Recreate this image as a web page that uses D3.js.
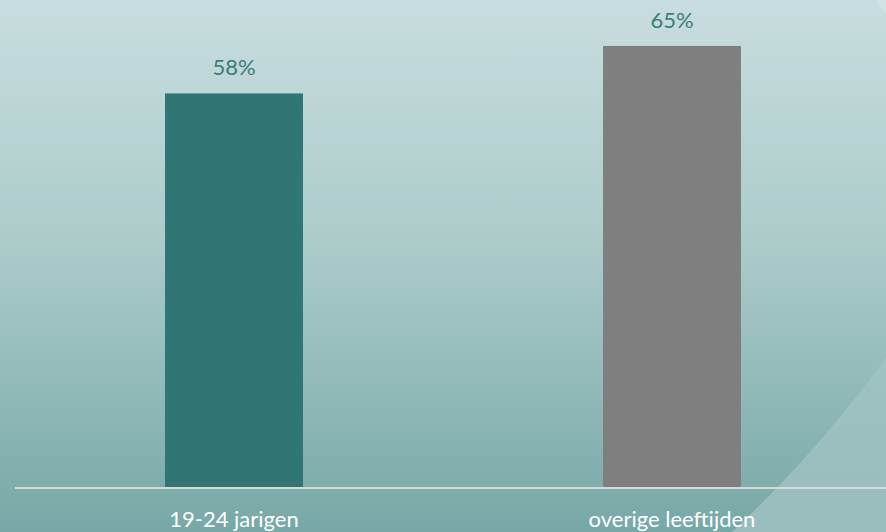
<!DOCTYPE html>
<html>
<head>
<meta charset="utf-8">
<script src="https://cdn.jsdelivr.net/npm/d3@7"></script>
<style>
  html, body { margin: 0; padding: 0; background: #c8dddf; }
  svg { display: block; }
</style>
</head>
<body>
<div id="chart"></div>
<script>
// Share of respondents per age group
const categories = ["19-24 jarigen", "overige leeftijden"];
const values = [58, 65];
const valueLabels = ["58%", "65%"];
const barColors = ["#307674", "#7f7f7f"];

const W = 886, H = 532;
const svg = d3.select("#chart").append("svg")
  .attr("width", W).attr("height", H);

const defs = svg.append("defs");

// Vertical background wash
const bg = defs.append("linearGradient").attr("id", "bg")
  .attr("x1", 0).attr("y1", 0).attr("x2", 0).attr("y2", 1);
bg.append("stop").attr("offset", "0").attr("stop-color", "#c8dddf");
bg.append("stop").attr("offset", "0.45").attr("stop-color", "#acccca");
bg.append("stop").attr("offset", "1").attr("stop-color", "#77a8a7");

// Highlight that grows stronger toward the bottom
const hl = defs.append("linearGradient").attr("id", "hl")
  .attr("gradientUnits", "userSpaceOnUse")
  .attr("x1", 0).attr("y1", 300).attr("x2", 0).attr("y2", 532);
hl.append("stop").attr("offset", "0").attr("stop-color", "#ffffff").attr("stop-opacity", 0.03);
hl.append("stop").attr("offset", "1").attr("stop-color", "#ffffff").attr("stop-opacity", 0.25);

svg.append("rect").attr("width", W).attr("height", H).attr("fill", "url(#bg)");

// Area of the frame lying outside a circle
function outsideCircle(cx, cy, r) {
  return `M0,0H${W}V${H}H0Z M${cx + r},${cy} A${r},${r} 0 1,0 ${cx - r},${cy} A${r},${r} 0 1,0 ${cx + r},${cy}Z`;
}

// Decorative arc in the lower right
svg.append("path").attr("d", outsideCircle(-113, -369, 1235))
  .attr("fill", "url(#hl)").attr("fill-rule", "evenodd");

// Small corner sheen at the top right
svg.append("path").attr("d", outsideCircle(74.5, 598.5, 1000))
  .attr("fill", "#ffffff").attr("fill-opacity", 0.2).attr("fill-rule", "evenodd");

// Scales
const x = d3.scaleBand().domain(categories)
  .range([15, 891]).paddingInner(0.685).paddingOuter(0.3425);
const y = d3.scaleLinear().domain([0, 70]).range([487, 12]);

const fontFamily = "Lato, 'Open Sans', sans-serif";

// Bars
svg.selectAll("rect.bar").data(values).join("rect")
  .attr("class", "bar")
  .attr("x", (d, i) => x(categories[i]))
  .attr("y", d => y(d))
  .attr("width", x.bandwidth())
  .attr("height", d => y(0) - y(d))
  .attr("fill", (d, i) => barColors[i]);

// Value labels
svg.selectAll("text.val").data(values).join("text")
  .attr("class", "val")
  .attr("x", (d, i) => x(categories[i]) + x.bandwidth() / 2)
  .attr("y", d => y(d) - 18)
  .attr("text-anchor", "middle")
  .attr("font-family", fontFamily)
  .attr("font-size", 22)
  .attr("fill", "#3a7e7b")
  .text((d, i) => valueLabels[i]);

// Category axis
const axis = svg.append("g").attr("transform", `translate(0,${y(0)})`)
  .call(d3.axisBottom(x).tickSize(0).tickPadding(0));
axis.select(".domain").attr("d", `M15,1H${W}`).attr("stroke", "#d9d9d9").attr("stroke-width", 2);
axis.selectAll(".tick text")
  .attr("y", 0).attr("dy", 40)
  .attr("font-family", fontFamily)
  .attr("font-size", 22)
  .attr("fill", "#ffffff");
</script>
</body>
</html>
